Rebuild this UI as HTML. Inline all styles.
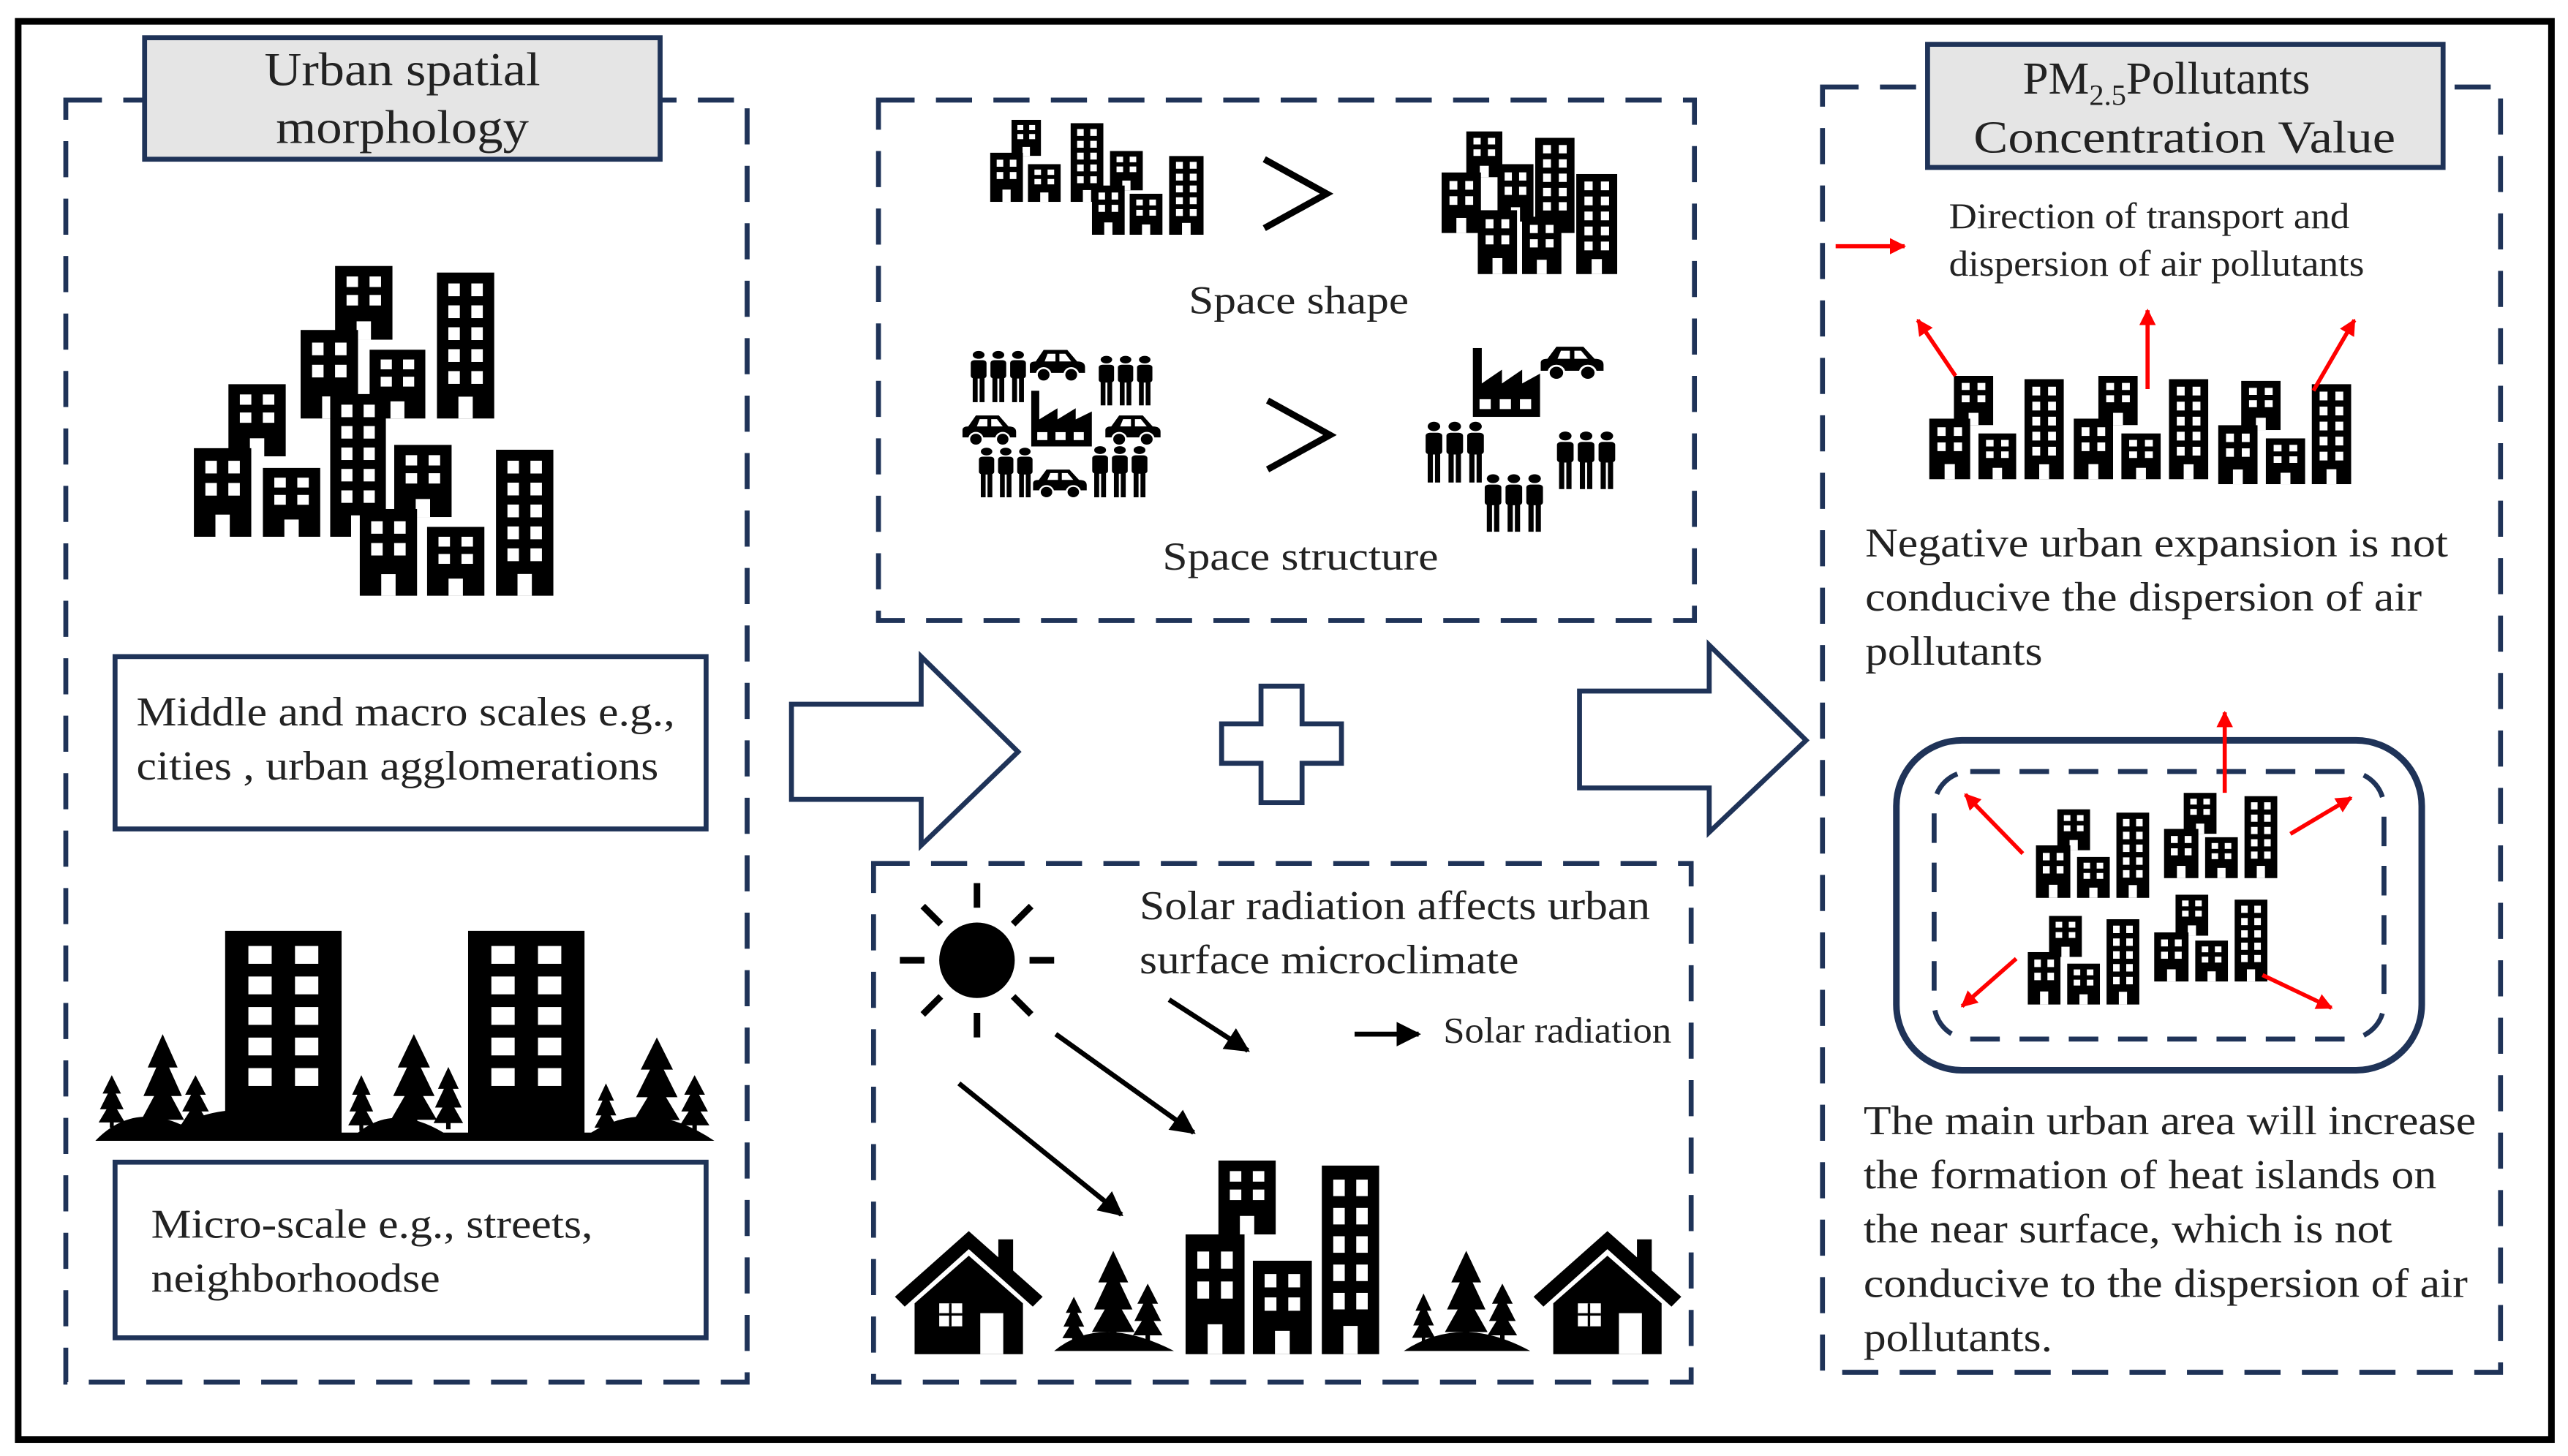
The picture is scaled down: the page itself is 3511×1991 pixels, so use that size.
<!DOCTYPE html>
<html><head><meta charset="utf-8"><style>
html,body{margin:0;padding:0;background:#fff}
svg{display:block}
text{font-family:"Liberation Serif",serif;fill:#222}
</style></head><body>
<svg width="3511" height="1991" viewBox="0 0 1564 887" xmlns="http://www.w3.org/2000/svg">
<defs>
<symbol id="tb" viewBox="0 0 20 40" preserveAspectRatio="none">
<path d="M0 0H20V40H0Z" fill="#000"/>
<g fill="#fff">
<rect x="4" y="3" width="4" height="3.5"/><rect x="12" y="3" width="4" height="3.5"/>
<rect x="4" y="9" width="4" height="3.5"/><rect x="12" y="9" width="4" height="3.5"/>
<rect x="4" y="15" width="4" height="3.5"/><rect x="12" y="15" width="4" height="3.5"/>
<rect x="4" y="21" width="4" height="3.5"/><rect x="12" y="21" width="4" height="3.5"/>
<rect x="4" y="27" width="4" height="3.5"/><rect x="12" y="27" width="4" height="3.5"/>
<rect x="7.5" y="34" width="5" height="6"/></g>
</symbol>
<symbol id="tbn" viewBox="0 0 20 40" preserveAspectRatio="none">
<path d="M0 0H20V40H0Z" fill="#000"/>
<g fill="#fff">
<rect x="4" y="3" width="4" height="3.5"/><rect x="12" y="3" width="4" height="3.5"/>
<rect x="4" y="9" width="4" height="3.5"/><rect x="12" y="9" width="4" height="3.5"/>
<rect x="4" y="15" width="4" height="3.5"/><rect x="12" y="15" width="4" height="3.5"/>
<rect x="4" y="21" width="4" height="3.5"/><rect x="12" y="21" width="4" height="3.5"/>
<rect x="4" y="27" width="4" height="3.5"/><rect x="12" y="27" width="4" height="3.5"/></g>
</symbol>
<symbol id="sb" viewBox="0 0 20 28" preserveAspectRatio="none">
<path d="M0 0H20V28H0Z" fill="#000"/>
<g fill="#fff">
<rect x="4" y="4" width="4" height="4"/><rect x="12" y="4" width="4" height="4"/>
<rect x="4" y="11" width="4" height="4"/><rect x="12" y="11" width="4" height="4"/>
<rect x="7.5" y="21" width="5" height="7"/></g>
</symbol>
<symbol id="pp" viewBox="0 0 30 40" preserveAspectRatio="none">
<g fill="#000">
<circle cx="5" cy="4" r="3"/><circle cx="15" cy="4" r="3"/><circle cx="25" cy="4" r="3"/>
<rect x="1" y="8" width="8" height="14" rx="2"/><rect x="11" y="8" width="8" height="14" rx="2"/><rect x="21" y="8" width="8" height="14" rx="2"/>
<rect x="2" y="21" width="2.5" height="19"/><rect x="5.5" y="21" width="2.5" height="19"/>
<rect x="12" y="21" width="2.5" height="19"/><rect x="15.5" y="21" width="2.5" height="19"/>
<rect x="22" y="21" width="2.5" height="19"/><rect x="25.5" y="21" width="2.5" height="19"/></g>
</symbol>
<symbol id="car" viewBox="0 0 30 18" preserveAspectRatio="none">
<path d="M1 13V9Q1 7 4 7L8 1H20L25 7Q29 7 29 10V13Z" fill="#000"/>
<path d="M10 3H14V7H8.5ZM16 3H19L22 7H16Z" fill="#fff"/>
<circle cx="8" cy="14" r="3.5" fill="#000" stroke="#fff" stroke-width="1"/><circle cx="22" cy="14" r="3.5" fill="#000" stroke="#fff" stroke-width="1"/>
</symbol>
<symbol id="fac" viewBox="0 0 30 35" preserveAspectRatio="none">
<path d="M0 35V0H4V18L13 11V18L22 11V18L30 13V35Z" fill="#000"/>
<g fill="#fff"><rect x="3" y="26" width="5" height="5"/><rect x="12" y="26" width="5" height="5"/><rect x="21" y="26" width="5" height="5"/></g>
</symbol>
<symbol id="tree" viewBox="0 0 20 40" preserveAspectRatio="none">
<path d="M10 0L3 14H7L1 26H6L0 36H20L14 26H19L13 14H17Z" fill="#000"/><rect x="8.5" y="34" width="3" height="6" fill="#000"/>
</symbol>
<symbol id="house" viewBox="0 0 90 75" preserveAspectRatio="none">
<path d="M45 0L0 40L6 46L45 11L84 46L90 40L72 24V5H63V16Z" fill="#000"/>
<path d="M12 44L45 15L78 44V75H12Z" fill="#000"/>
<rect x="27" y="44" width="14" height="14" fill="#fff"/><rect x="27" y="50" width="14" height="1.5" fill="#000"/><rect x="33" y="44" width="1.5" height="14" fill="#000"/>
<rect x="52" y="50" width="14" height="25" fill="#fff"/>
</symbol>
<marker id="ar" viewBox="0 0 10 10" refX="9" refY="5" markerWidth="5" markerHeight="5" orient="auto"><path d="M0 0L10 5L0 10Z" fill="#000"/></marker>
<marker id="rr" viewBox="0 0 10 10" refX="9" refY="5" markerWidth="4" markerHeight="4" orient="auto"><path d="M0 0L10 5L0 10Z" fill="#f00"/></marker>
</defs>

<rect x="11" y="13" width="1543" height="864" fill="none" stroke="#000" stroke-width="4"/>

<!-- left dashed box -->
<rect x="40" y="61" width="415" height="781" fill="none" stroke="#1f3358" stroke-width="3" stroke-dasharray="22 13"/>
<rect x="88" y="23" width="314" height="74" fill="#e5e5e5" stroke="#1f3358" stroke-width="3"/>
<text x="161" y="52" font-size="29" textLength="168" lengthAdjust="spacingAndGlyphs">Urban spatial</text>
<text x="168" y="87" font-size="29" textLength="154" lengthAdjust="spacingAndGlyphs">morphology</text>

<use href="#sb" x="204" y="162" width="35" height="45"/>
<use href="#tb" x="266" y="166" width="35" height="89"/>
<use href="#sb" x="183" y="201" width="35" height="54"/>
<use href="#sb" x="225" y="213" width="34" height="42"/>
<use href="#sb" x="139" y="234" width="35" height="44"/>
<use href="#sb" x="118" y="273" width="35" height="54"/>
<use href="#sb" x="160" y="285" width="35" height="42"/>
<use href="#tb" x="201" y="240" width="34" height="87"/>
<use href="#sb" x="240" y="271" width="35" height="44"/>
<use href="#sb" x="219" y="310" width="35" height="53"/>
<use href="#sb" x="260" y="321" width="35" height="42"/>
<use href="#tb" x="302" y="274" width="35" height="89"/>

<rect x="70" y="400" width="360" height="105" fill="none" stroke="#1f3358" stroke-width="3"/>
<text x="83" y="442" font-size="25" textLength="328" lengthAdjust="spacingAndGlyphs">Middle and macro scales e.g.,</text>
<text x="83" y="475" font-size="25" textLength="318" lengthAdjust="spacingAndGlyphs">cities , urban agglomerations</text>

<!-- trees & buildings -->
<path d="M58 695Q80 672 110 685Q150 665 200 690L218 690Q240 672 270 690L360 690Q395 668 435 695Z" fill="#000"/>
<use href="#tbn" x="137" y="567" width="71" height="124"/>
<use href="#tbn" x="285" y="567" width="71" height="124"/>
<use href="#tree" x="60" y="655" width="16" height="32"/>
<use href="#tree" x="86" y="630" width="26" height="58"/>
<use href="#tree" x="110" y="655" width="18" height="34"/>
<use href="#tree" x="212" y="655" width="16" height="34"/>
<use href="#tree" x="238" y="630" width="28" height="58"/>
<use href="#tree" x="264" y="650" width="18" height="38"/>
<use href="#tree" x="362" y="660" width="14" height="30"/>
<use href="#tree" x="386" y="632" width="28" height="56"/>
<use href="#tree" x="414" y="655" width="18" height="34"/>

<rect x="70" y="708" width="360" height="107" fill="none" stroke="#1f3358" stroke-width="3"/>
<text x="92" y="754" font-size="25" textLength="269" lengthAdjust="spacingAndGlyphs">Micro-scale e.g., streets,</text>
<text x="92" y="787" font-size="25" textLength="176" lengthAdjust="spacingAndGlyphs">neighborhoodse</text>

<!-- middle top -->
<rect x="535" y="61" width="497" height="317" fill="none" stroke="#1f3358" stroke-width="3" stroke-dasharray="22 13"/>
<use href="#sb" x="616" y="73" width="18" height="22"/>
<use href="#sb" x="603" y="93" width="20" height="30"/>
<use href="#sb" x="626" y="100" width="20" height="23"/>
<use href="#tb" x="652" y="75" width="20" height="48"/>
<use href="#sb" x="676" y="92" width="20" height="24"/>
<use href="#sb" x="665" y="113" width="20" height="30"/>
<use href="#sb" x="688" y="118" width="20" height="25"/>
<use href="#tb" x="712" y="95" width="21" height="48"/>
<path d="M770 97L808 118L770 139" fill="none" stroke="#000" stroke-width="4"/>
<use href="#sb" x="893" y="80" width="22" height="28"/>
<use href="#sb" x="878" y="105" width="24" height="37"/>
<use href="#tb" x="935" y="84" width="24" height="58"/>
<use href="#sb" x="912" y="100" width="22" height="35"/>
<use href="#sb" x="900" y="128" width="24" height="39"/>
<use href="#sb" x="927" y="132" width="24" height="35"/>
<use href="#tb" x="960" y="106" width="25" height="61"/>
<text x="724" y="191" font-size="24" textLength="134" lengthAdjust="spacingAndGlyphs">Space shape</text>

<use href="#pp" x="590" y="213" width="36" height="32"/>
<use href="#car" x="626" y="212" width="36" height="21"/>
<use href="#pp" x="668" y="216" width="35" height="31"/>
<use href="#car" x="585" y="252" width="35" height="20"/>
<use href="#fac" x="628" y="238" width="37" height="34"/>
<use href="#car" x="672" y="252" width="36" height="20"/>
<use href="#pp" x="595" y="272" width="35" height="31"/>
<use href="#car" x="628" y="285" width="35" height="19"/>
<use href="#pp" x="664" y="271" width="36" height="32"/>
<path d="M772 244L810 265L772 286" fill="none" stroke="#000" stroke-width="4"/>
<use href="#fac" x="897" y="212" width="41" height="42"/>
<use href="#car" x="937" y="210" width="41" height="22"/>
<use href="#pp" x="867" y="256" width="38" height="38"/>
<use href="#pp" x="903" y="288" width="38" height="36"/>
<use href="#pp" x="947" y="262" width="38" height="36"/>
<text x="708" y="347" font-size="24" textLength="168" lengthAdjust="spacingAndGlyphs">Space structure</text>

<!-- big arrows and plus -->
<path d="M482 429H561V400L620 458L561 515V487H482Z" fill="#fff" stroke="#1f3358" stroke-width="3"/>
<path d="M962 421H1041V393L1100 451L1041 507V480H962Z" fill="#fff" stroke="#1f3358" stroke-width="3"/>
<path d="M768 418H793V441H817V465H793V489H768V465H744V441H768Z" fill="#fff" stroke="#1f3358" stroke-width="3"/>

<!-- middle bottom -->
<rect x="532" y="526" width="498" height="316" fill="none" stroke="#1f3358" stroke-width="3" stroke-dasharray="22 13"/>
<circle cx="595" cy="585" r="23" fill="#000"/>
<g stroke="#000" stroke-width="4">
<line x1="595" y1="538" x2="595" y2="553"/><line x1="595" y1="617" x2="595" y2="632"/>
<line x1="548" y1="585" x2="563" y2="585"/><line x1="627" y1="585" x2="642" y2="585"/>
<line x1="562" y1="552" x2="573" y2="563"/><line x1="617" y1="607" x2="628" y2="618"/>
<line x1="628" y1="552" x2="617" y2="563"/><line x1="573" y1="607" x2="562" y2="618"/>
</g>
<text x="694" y="560" font-size="25" textLength="311" lengthAdjust="spacingAndGlyphs">Solar radiation affects urban</text>
<text x="694" y="593" font-size="25" textLength="231" lengthAdjust="spacingAndGlyphs">surface microclimate</text>
<g stroke="#000" stroke-width="3" marker-end="url(#ar)">
<line x1="712" y1="609" x2="760" y2="640"/>
<line x1="643" y1="630" x2="727" y2="690"/>
<line x1="584" y1="660" x2="683" y2="740"/>
<line x1="825" y1="630" x2="864" y2="630"/>
</g>
<text x="879" y="635" font-size="22" textLength="139" lengthAdjust="spacingAndGlyphs">Solar radiation</text>
<use href="#house" x="545" y="750" width="90" height="75"/>
<use href="#house" x="934" y="750" width="90" height="75"/>
<path d="M642 823Q670 800 715 823Z" fill="#000"/>
<path d="M855 823Q890 800 932 823Z" fill="#000"/>
<use href="#tree" x="647" y="790" width="14" height="28"/>
<use href="#tree" x="665" y="762" width="26" height="55"/>
<use href="#tree" x="690" y="782" width="18" height="35"/>
<use href="#tree" x="860" y="788" width="14" height="30"/>
<use href="#tree" x="880" y="762" width="26" height="55"/>
<use href="#tree" x="906" y="782" width="18" height="35"/>
<use href="#sb" x="742" y="707" width="35" height="45"/>
<use href="#tb" x="805" y="710" width="35" height="115"/>
<use href="#sb" x="722" y="752" width="36" height="73"/>
<use href="#sb" x="763" y="768" width="36" height="57"/>

<!-- right box -->
<rect x="1110" y="53" width="413" height="783" fill="none" stroke="#1f3358" stroke-width="3" stroke-dasharray="22 13"/>
<rect x="1174" y="27" width="314" height="75" fill="#e5e5e5" stroke="#1f3358" stroke-width="3"/>
<text x="1232" y="57" font-size="28">PM<tspan font-size="18" dy="7">2.5</tspan><tspan dy="-7">Pollutants</tspan></text>
<text x="1202" y="93" font-size="28" textLength="257" lengthAdjust="spacingAndGlyphs">Concentration Value</text>
<line x1="1118" y1="150" x2="1160" y2="150" stroke="#f00" stroke-width="2.5" marker-end="url(#rr)"/>
<text x="1187" y="139" font-size="22" textLength="244" lengthAdjust="spacingAndGlyphs">Direction of transport and</text>
<text x="1187" y="168" font-size="22" textLength="253" lengthAdjust="spacingAndGlyphs">dispersion of air pollutants</text>

<use href="#sb" x="1190" y="229" width="24" height="30"/>
<use href="#sb" x="1175" y="255" width="25" height="37"/>
<use href="#sb" x="1205" y="264" width="23" height="28"/>
<use href="#tb" x="1233" y="231" width="24" height="61"/>
<use href="#sb" x="1278" y="229" width="24" height="30"/>
<use href="#sb" x="1263" y="255" width="24" height="37"/>
<use href="#sb" x="1292" y="264" width="24" height="28"/>
<use href="#tb" x="1321" y="231" width="24" height="61"/>
<use href="#sb" x="1365" y="232" width="24" height="30"/>
<use href="#sb" x="1351" y="259" width="24" height="36"/>
<use href="#sb" x="1380" y="267" width="24" height="28"/>
<use href="#tb" x="1408" y="234" width="24" height="61"/>
<g stroke="#f00" stroke-width="2.5" marker-end="url(#rr)">
<line x1="1191" y1="229" x2="1168" y2="195"/>
<line x1="1308" y1="237" x2="1308" y2="189"/>
<line x1="1409" y1="238" x2="1434" y2="195"/>
</g>
<text x="1136" y="339" font-size="25" textLength="355" lengthAdjust="spacingAndGlyphs">Negative urban expansion is not</text>
<text x="1136" y="372" font-size="25" textLength="339" lengthAdjust="spacingAndGlyphs">conducive the dispersion of air</text>
<text x="1136" y="405" font-size="25" textLength="108" lengthAdjust="spacingAndGlyphs">pollutants</text>

<rect x="1155" y="451" width="320" height="201" rx="40" fill="none" stroke="#1f3358" stroke-width="4"/>
<rect x="1178" y="470" width="274" height="163" rx="22" fill="none" stroke="#1f3358" stroke-width="3" stroke-dasharray="18 12"/>
<use href="#sb" x="1253" y="493" width="20" height="25"/>
<use href="#sb" x="1240" y="515" width="21" height="32"/>
<use href="#sb" x="1265" y="522" width="20" height="25"/>
<use href="#tb" x="1289" y="495" width="20" height="52"/>
<use href="#sb" x="1330" y="483" width="20" height="25"/>
<use href="#sb" x="1318" y="505" width="21" height="30"/>
<use href="#sb" x="1343" y="510" width="20" height="25"/>
<use href="#tb" x="1367" y="485" width="20" height="50"/>
<use href="#sb" x="1248" y="558" width="20" height="25"/>
<use href="#sb" x="1235" y="580" width="20" height="32"/>
<use href="#sb" x="1259" y="587" width="20" height="25"/>
<use href="#tb" x="1283" y="560" width="20" height="52"/>
<use href="#sb" x="1325" y="545" width="20" height="25"/>
<use href="#sb" x="1312" y="568" width="21" height="30"/>
<use href="#sb" x="1337" y="573" width="20" height="25"/>
<use href="#tb" x="1361" y="548" width="20" height="50"/>
<g stroke="#f00" stroke-width="2.5" marker-end="url(#rr)">
<line x1="1355" y1="483" x2="1355" y2="434"/>
<line x1="1232" y1="520" x2="1197" y2="484"/>
<line x1="1395" y1="508" x2="1432" y2="486"/>
<line x1="1228" y1="584" x2="1195" y2="613"/>
<line x1="1378" y1="594" x2="1420" y2="614"/>
</g>
<text x="1135" y="691" font-size="25" textLength="373" lengthAdjust="spacingAndGlyphs">The main urban area will increase</text>
<text x="1135" y="724" font-size="25" textLength="349" lengthAdjust="spacingAndGlyphs">the formation of heat islands on</text>
<text x="1135" y="757" font-size="25" textLength="322" lengthAdjust="spacingAndGlyphs">the near surface, which is not</text>
<text x="1135" y="790" font-size="25" textLength="368" lengthAdjust="spacingAndGlyphs">conducive to the dispersion of air</text>
<text x="1135" y="823" font-size="25" textLength="115" lengthAdjust="spacingAndGlyphs">pollutants.</text>
</svg>
</body></html>
